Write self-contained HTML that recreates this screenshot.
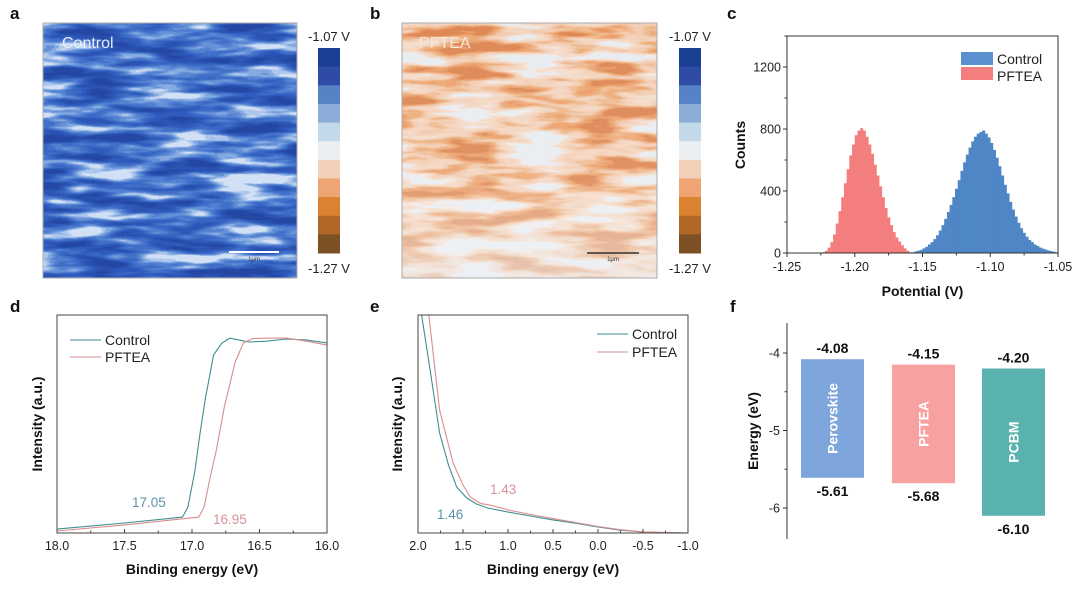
<!DOCTYPE html>
<html><head><meta charset="utf-8"><style>
html,body{margin:0;padding:0;background:#fff}
svg{display:block;font-family:"Liberation Sans",Arial,sans-serif}
</style></head><body>
<svg id="fig" width="1080" height="596" viewBox="0 0 1080 596" xmlns="http://www.w3.org/2000/svg">
<defs>
<filter id="mapA" x="0" y="0" width="100%" height="100%" color-interpolation-filters="sRGB">
<feTurbulence type="fractalNoise" baseFrequency="0.014 0.075" numOctaves="3" seed="7"/>
<feColorMatrix type="matrix" values="2.4 0 0 0 -0.7  2.4 0 0 0 -0.7  2.4 0 0 0 -0.7  0 0 0 0 1"/>
<feComponentTransfer>
<feFuncR type="discrete" tableValues="0.14 0.16 0.17 0.19 0.22 0.26 0.32 0.40 0.52 0.68 0.82"/>
<feFuncG type="discrete" tableValues="0.28 0.31 0.33 0.36 0.40 0.44 0.50 0.57 0.67 0.78 0.88"/>
<feFuncB type="discrete" tableValues="0.64 0.68 0.71 0.74 0.77 0.79 0.82 0.85 0.89 0.93 0.96"/>
</feComponentTransfer>
</filter>
<filter id="mapB" x="0" y="0" width="100%" height="100%" color-interpolation-filters="sRGB">
<feTurbulence type="fractalNoise" baseFrequency="0.014 0.075" numOctaves="3" seed="3"/>
<feColorMatrix type="matrix" values="2.4 0 0 0 -0.7  2.4 0 0 0 -0.7  2.4 0 0 0 -0.7  0 0 0 0 1"/>
<feComponentTransfer>
<feFuncR type="discrete" tableValues="0.91 0.94 0.96 0.96 0.96 0.95 0.94 0.93 0.93 0.91 0.87"/>
<feFuncG type="discrete" tableValues="0.93 0.92 0.87 0.85 0.83 0.80 0.74 0.68 0.64 0.60 0.54"/>
<feFuncB type="discrete" tableValues="0.95 0.92 0.80 0.77 0.74 0.70 0.58 0.49 0.44 0.40 0.34"/>
</feComponentTransfer>
</filter>
<linearGradient id="fadeB" x1="0" y1="0" x2="0" y2="1">
<stop offset="0" stop-color="#fff" stop-opacity="0"/>
<stop offset="0.6" stop-color="#fff" stop-opacity="0.08"/>
<stop offset="1" stop-color="#eef2f6" stop-opacity="0.6"/>
</linearGradient>
</defs>

<g font-weight="bold" font-size="17" fill="#111">
<text x="10" y="19">a</text>
<text x="370" y="19">b</text>
<text x="727" y="19">c</text>
<text x="10" y="312">d</text>
<text x="370" y="312">e</text>
<text x="730" y="312">f</text>
</g>

<g>
<rect x="43" y="23" width="254" height="255" fill="#2b4ea8" filter="url(#mapA)"/>
<rect x="43" y="23" width="254" height="255" fill="none" stroke="#aaa" stroke-width="1"/>
<text x="62" y="48" font-size="16" fill="#e8eef8">Control</text>
<line x1="229" y1="252" x2="279" y2="252" stroke="#fff" stroke-width="2"/>
<text x="254" y="261" font-size="6" fill="#333" text-anchor="middle">1μm</text>
</g>
<g>
<rect x="402" y="23" width="255" height="255" fill="#f3d2bc" filter="url(#mapB)"/>
<rect x="402" y="23" width="255" height="255" fill="url(#fadeB)"/>
<rect x="402" y="23" width="255" height="255" fill="none" stroke="#aaa" stroke-width="1"/>
<text x="419" y="48" font-size="16" fill="#f7e6da">PFTEA</text>
<line x1="587" y1="253" x2="639" y2="253" stroke="#333" stroke-width="1.5"/>
<text x="613" y="261" font-size="6" fill="#333" text-anchor="middle">1μm</text>
</g>
<g id="cbars"></g>

<g id="panelC"></g>
<g id="panelD"></g>
<g id="panelE"></g>
<g id="panelF"></g>
</svg>
<script>
// ---------- data ----------
const colorbarColors = ["#1b3f92","#2e4ba6","#5682c6","#8dadd9","#c3d9e9","#eceff2","#f2d0b8","#efa474","#db8231","#b06727","#7d5026"];
const colorbarLabels = ["-1.07 V","-1.27 V"];

const histPftCenters = [-1.223,-1.221,-1.219,-1.217,-1.215,-1.213,-1.211,-1.209,-1.207,-1.205,-1.203,-1.201,-1.199,-1.197,-1.195,-1.193,-1.191,-1.189,-1.187,-1.185,-1.183,-1.181,-1.179,-1.177,-1.175,-1.173,-1.171,-1.169,-1.167,-1.165,-1.163,-1.161,-1.159];
const histPftCounts = [5,15,35,70,120,190,270,360,450,540,630,700,760,790,805,790,750,700,640,570,500,430,360,290,230,180,135,100,75,50,30,15,5];
const histCtlCenters = [-1.157,-1.155,-1.153,-1.151,-1.149,-1.147,-1.145,-1.143,-1.141,-1.139,-1.137,-1.135,-1.133,-1.131,-1.129,-1.127,-1.125,-1.123,-1.121,-1.119,-1.117,-1.115,-1.113,-1.111,-1.109,-1.107,-1.105,-1.103,-1.101,-1.099,-1.097,-1.095,-1.093,-1.091,-1.089,-1.087,-1.085,-1.083,-1.081,-1.079,-1.077,-1.075,-1.073,-1.071,-1.069,-1.067,-1.065,-1.063,-1.061,-1.059,-1.057,-1.055,-1.053,-1.051];
const histCtlCounts = [5,10,15,20,30,40,55,70,90,115,145,180,220,265,310,360,415,470,530,585,635,680,720,750,770,780,790,770,745,710,665,615,560,500,440,385,330,280,235,195,160,130,105,85,70,55,45,35,28,22,16,12,8,5];
const histXTicks = [-1.25,-1.20,-1.15,-1.10,-1.05];
const histXTickLabels = ["-1.25","-1.20","-1.15","-1.10","-1.05"];
const histYTicks = [0,400,800,1200];

const dCtlX = [18,17.5,17.07,17.03,16.98,16.94,16.9,16.84,16.78,16.72,16.65,16.58,16.45,16.3,16.15,16.0];
const dCtlY = [1.8,4.6,7.3,11.9,28,45.9,62,81.7,87,89.4,88.5,87.6,88,89,88.5,87.2];
const dPftX = [18,17.5,16.95,16.91,16.87,16.82,16.76,16.68,16.62,16.55,16.4,16.3,16.15,16.0];
const dPftY = [0.9,3.7,7.3,12,24,38,58,78.4,87.2,89.2,89.4,89.4,88,86.2];
const dXTicks = [18.0,17.5,17.0,16.5,16.0];
const dXTickLabels = ["18.0","17.5","17.0","16.5","16.0"];

const eCtlX = [1.96,1.87,1.76,1.66,1.57,1.46,1.35,1.23,1.0,0.75,0.5,0.25,0,-0.25,-0.5,-0.75,-1.0];
const eCtlY = [100,76,45.9,31,21.1,16.1,13.3,11.5,9.6,7.8,6,4.5,2.8,1.3,0.5,0.2,0];
const ePftX = [1.88,1.76,1.61,1.5,1.42,1.3,1.2,1.0,0.75,0.5,0.25,0,-0.25,-0.5,-0.75,-1.0];
const ePftY = [100,56.4,32.1,22,16.5,13.5,12.8,10.6,8.5,6.6,4.8,3,1.5,0.5,0.2,0];
const eXTicks = [2.0,1.5,1.0,0.5,0.0,-0.5,-1.0];
const eXTickLabels = ["2.0","1.5","1.0","0.5","0.0","-0.5","-1.0"];

const fNames = ["Perovskite","PFTEA","PCBM"];
const fTop = [-4.08,-4.15,-4.20];
const fBottom = [-5.61,-5.68,-6.10];
const fTopLabels = ["-4.08","-4.15","-4.20"];
const fBottomLabels = ["-5.61","-5.68","-6.10"];
const fYTicks = [-4,-5,-6];
const fColors = ["#7ea6dc","#f7a1a1","#59b2ad"];

// ---------- helpers ----------
const NS="http://www.w3.org/2000/svg";
function mk(parent, tag, attrs, txt){const e=document.createElementNS(NS,tag);for(const k in attrs)e.setAttribute(k,attrs[k]);if(txt!==undefined)e.textContent=txt;parent.appendChild(e);return e;}
function lin(d0,d1,r0,r1){return v=>r0+(v-d0)*(r1-r0)/(d1-d0);}

// ---------- colorbars ----------
const cb=document.getElementById('cbars');
[318,679].forEach((cx,ci)=>{
  const n=colorbarColors.length, y0=48, h=205/n;
  colorbarColors.forEach((c,i)=>{
    const r=mk(cb,'rect',{x:cx,y:y0+i*h,width:22,height:h+0.5,fill:c});
    
    
  });
  const t1=mk(cb,'text',{x:cx+11,y:41,'font-size':13,'text-anchor':'middle',fill:'#222'},colorbarLabels[0]);
  
  
  const t2=mk(cb,'text',{x:cx+11,y:273,'font-size':13,'text-anchor':'middle',fill:'#222'},colorbarLabels[1]);
  
  
});

// ---------- panel c ----------
(function(){
  const g=document.getElementById('panelC');
  const L=787,R=1058,T=36,B=253;
  const x=lin(-1.25,-1.05,L,R), y=lin(0,1200,B,67);
  const bw=x(-1.248)-x(-1.25);
  histPftCenters.forEach((c,i)=>{
    const r=mk(g,'rect',{x:x(c)-bw/2,y:y(histPftCounts[i]),width:bw+0.3,height:B-y(histPftCounts[i]),fill:'#f47e7e'});
    
    
  });
  histCtlCenters.forEach((c,i)=>{
    const r=mk(g,'rect',{x:x(c)-bw/2,y:y(histCtlCounts[i]),width:bw+0.3,height:B-y(histCtlCounts[i]),fill:'#4f86c6'});
    
    
  });
  const fr=mk(g,'rect',{x:L,y:T,width:R-L,height:B-T,fill:'none',stroke:'#333','stroke-width':1});
  
  
  histXTicks.forEach((v,i)=>{
    mk(g,'line',{x1:x(v),y1:B,x2:x(v),y2:B+4,stroke:'#333'});
    const t=mk(g,'text',{x:x(v),y:B+18,'font-size':12.5,'text-anchor':'middle',fill:'#222'},histXTickLabels[i]);
    
    
    if(i<histXTicks.length-1) mk(g,'line',{x1:x((v+histXTicks[i+1])/2),y1:B,x2:x((v+histXTicks[i+1])/2),y2:B+2.5,stroke:'#333'});
  });
  histYTicks.forEach(v=>{
    mk(g,'line',{x1:L,y1:y(v),x2:L-4,y2:y(v),stroke:'#333'});
    mk(g,'line',{x1:L,y1:y(v+200),x2:L-2.5,y2:y(v+200),stroke:'#333'});
    const t=mk(g,'text',{x:L-6,y:y(v)+4.5,'font-size':12.5,'text-anchor':'end',fill:'#222'},String(v));
    
    
  });
  const xt=mk(g,'text',{x:(L+R)/2,y:296,'font-size':14,'font-weight':'bold','text-anchor':'middle',fill:'#111'},'Potential (V)');
  
  
  const yt=mk(g,'text',{x:0,y:0,'font-size':14,'font-weight':'bold','text-anchor':'middle',fill:'#111',transform:'translate(745,145) rotate(-90)'},'Counts');
  
  
  const l1=mk(g,'rect',{x:961,y:52,width:32,height:13,fill:'#5b90cf'});
  
  
  const l2=mk(g,'rect',{x:961,y:67,width:32,height:13,fill:'#f47e7e'});
  
  
  const lt1=mk(g,'text',{x:997,y:64,'font-size':14,fill:'#222'},'Control');
  
  
  const lt2=mk(g,'text',{x:997,y:81,'font-size':14,fill:'#222'},'PFTEA');
  
  
})();

// ---------- line panels d, e ----------
function linePanel(id,L,R,T,B,x0,x1,ticks,tickLabels,series,legend,annots,titleX){
  const g=document.getElementById(id);
  const x=lin(x0,x1,L,R), y=lin(0,100,B,T);
  series.forEach(s=>{
    const p=mk(g,'polyline',{points:s.xs.map((v,i)=>x(v).toFixed(1)+','+y(s.ys[i]).toFixed(1)).join(' '),fill:'none',stroke:s.color,'stroke-width':1.1});
    
    
  });
  const fr=mk(g,'rect',{x:L,y:T,width:R-L,height:B-T,fill:'none',stroke:'#444','stroke-width':1});
  
  
  ticks.forEach((v,i)=>{
    mk(g,'line',{x1:x(v),y1:B,x2:x(v),y2:B-4,stroke:'#444'});
    if(i<ticks.length-1) mk(g,'line',{x1:x((v+ticks[i+1])/2),y1:B,x2:x((v+ticks[i+1])/2),y2:B-2.5,stroke:'#444'});
    const t=mk(g,'text',{x:x(v),y:B+17,'font-size':12.5,'text-anchor':'middle',fill:'#222'},tickLabels[i]);
    
    
  });
  const xt=mk(g,'text',{x:(L+R)/2,y:574,'font-size':14,'font-weight':'bold','text-anchor':'middle',fill:'#111'},'Binding energy (eV)');
  
  
  const yt=mk(g,'text',{x:0,y:0,'font-size':14,'font-weight':'bold','text-anchor':'middle',fill:'#111',transform:'translate('+titleX+',424) rotate(-90)'},'Intensity (a.u.)');
  
  
  legend.forEach(l=>{
    const ln=mk(g,'line',{x1:l.x,y1:l.y-4,x2:l.x+31,y2:l.y-4,stroke:l.color,'stroke-width':1.1});
    
    
    const t=mk(g,'text',{x:l.x+35,y:l.y+1,'font-size':14,fill:'#222'},l.label);
    
    
  });
  annots.forEach(a=>{
    const t=mk(g,'text',{x:a.x,y:a.y,'font-size':13.5,fill:a.color},a.text);
    
    
  });
}
linePanel('panelD',57,327,315,533,18,16,dXTicks,dXTickLabels,
  [{xs:dCtlX,ys:dCtlY,color:'#3f8e91',name:'control-cutoff-line'},{xs:dPftX,ys:dPftY,color:'#d98c8c',name:'pftea-cutoff-line'}],
  [{x:70,y:344,color:'#3f8e91',label:'Control'},{x:70,y:361,color:'#d98c8c',label:'PFTEA'}],
  [{x:132,y:507,text:'17.05',color:'#5d93a6'},{x:213,y:524,text:'16.95',color:'#da8f98'}],42);
linePanel('panelE',418,688,315,533,2,-1,eXTicks,eXTickLabels,
  [{xs:eCtlX,ys:eCtlY,color:'#3f8e91',name:'control-vb-line'},{xs:ePftX,ys:ePftY,color:'#d98c8c',name:'pftea-vb-line'}],
  [{x:597,y:338,color:'#3f8e91',label:'Control'},{x:597,y:356,color:'#d98c8c',label:'PFTEA'}],
  [{x:437,y:519,text:'1.46',color:'#5d93a6'},{x:490,y:494,text:'1.43',color:'#da8f98'}],402);

// ---------- panel f ----------
(function(){
  const g=document.getElementById('panelF');
  const AX=787, y=lin(-4,-6,353,508);
  const bx=[801,892,982], bw=63;
  const ax=mk(g,'line',{x1:AX,y1:323,x2:AX,y2:539,stroke:'#333','stroke-width':1});
  
  
  fYTicks.forEach((v,i)=>{
    mk(g,'line',{x1:AX,y1:y(v),x2:AX-4,y2:y(v),stroke:'#333'});
    if(i<fYTicks.length-1) mk(g,'line',{x1:AX,y1:y(v-0.5),x2:AX-2.5,y2:y(v-0.5),stroke:'#333'});
    const t=mk(g,'text',{x:AX-7,y:y(v)+4.5,'font-size':12.5,'text-anchor':'end',fill:'#222'},String(v));
    
    
  });
  const yt=mk(g,'text',{x:0,y:0,'font-size':14,'font-weight':'bold','text-anchor':'middle',fill:'#111',transform:'translate(758,431) rotate(-90)'},'Energy (eV)');
  
  
  fNames.forEach((n,i)=>{
    const y0=y(fTop[i]), y1=y(fBottom[i]);
    const r=mk(g,'rect',{x:bx[i],y:y0,width:bw,height:y1-y0,fill:fColors[i]});
    
    
    const cx=bx[i]+bw/2, cy=(y0+y1)/2;
    const t=mk(g,'text',{x:0,y:0,'font-size':14,'font-weight':'bold','text-anchor':'middle',fill:'#fff',transform:'translate('+(cx+5)+','+cy+') rotate(-90)'},n);
    
    
    const tt=mk(g,'text',{x:cx,y:y0-6,'font-size':14,'font-weight':'bold','text-anchor':'middle',fill:'#111'},fTopLabels[i]);
    
    
    const tb=mk(g,'text',{x:cx,y:y1+18,'font-size':14,'font-weight':'bold','text-anchor':'middle',fill:'#111'},fBottomLabels[i]);
    
    
  });
})();
</script>
</body></html>
